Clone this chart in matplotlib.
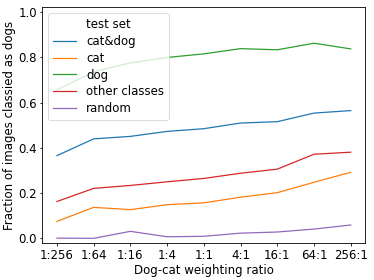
import matplotlib
matplotlib.use("Agg")
import matplotlib.pyplot as plt

ratios = ["1:256", "1:64", "1:16", "1:4", "1:1", "4:1", "16:1", "64:1", "256:1"]
cat_dog = [0.366, 0.440, 0.451, 0.473, 0.485, 0.510, 0.516, 0.554, 0.565]
cat = [0.075, 0.137, 0.127, 0.149, 0.157, 0.182, 0.202, 0.248, 0.292]
dog = [0.657, 0.737, 0.776, 0.800, 0.816, 0.839, 0.834, 0.863, 0.838]
other_classes = [0.163, 0.221, 0.234, 0.250, 0.265, 0.288, 0.306, 0.372, 0.381]
random_set = [0.001, 0.000, 0.031, 0.007, 0.009, 0.023, 0.028, 0.041, 0.059]

series = [("cat&dog", cat_dog), ("cat", cat), ("dog", dog),
          ("other classes", other_classes), ("random", random_set)]

fig = plt.figure(figsize=(3.74, 2.80), dpi=100)
ax = fig.add_axes([0.113, 0.131, 0.864, 0.843])
x = list(range(len(ratios)))
for name, vals in series:
    ax.plot(x, vals, label=name, linewidth=0.9)

for s in ax.spines.values():
    s.set_linewidth(0.6)
ax.set_xticks(x)
ax.set_xticklabels(ratios)
ax.tick_params(axis="both", labelsize=8.5, length=1.8, width=0.6, pad=2)
ax.set_ylim(-0.022, 1.022)
ax.set_yticks([0.0, 0.2, 0.4, 0.6, 0.8, 1.0])
ax.set_xlabel("Dog-cat weighting ratio", fontsize=8.5, labelpad=1.5)
ax.set_ylabel("Fraction of images classied as dogs", fontsize=8.5, labelpad=1.5)
leg = ax.legend(title="test set", loc="upper left", fontsize=8.5, title_fontsize=8.5,
                labelspacing=0.33)
leg.get_frame().set_linewidth(0.6)

fig.savefig("out.png", dpi=100)
